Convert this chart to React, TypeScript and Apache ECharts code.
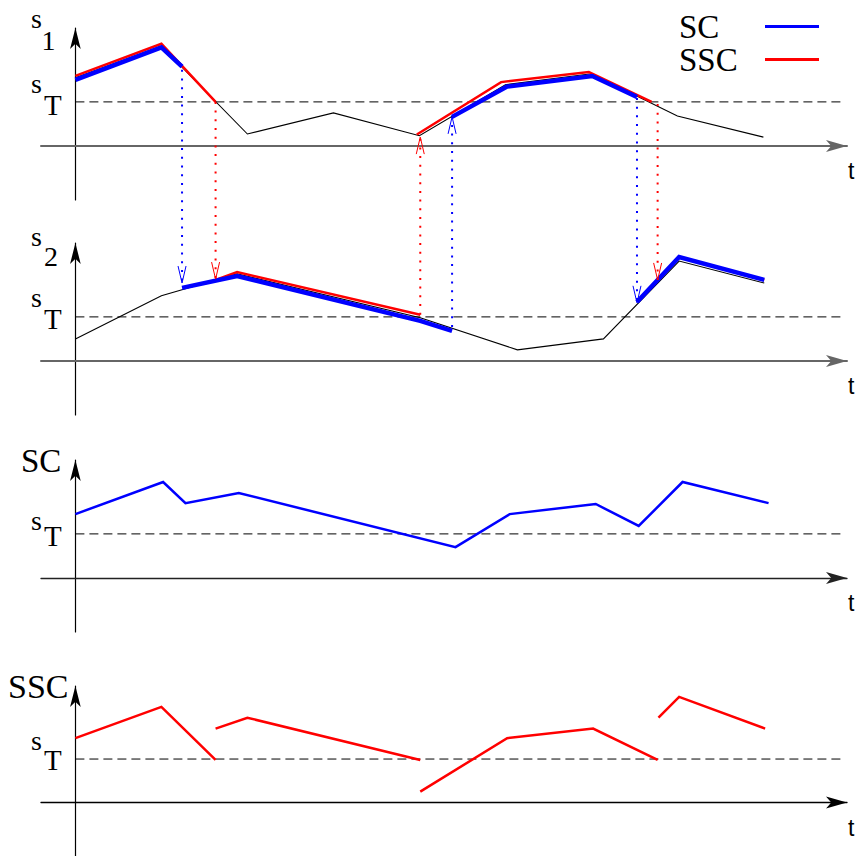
import React, { useEffect, useRef } from 'react';
import * as echarts from 'echarts';

// ---- data (t in arbitrary time units, values in arbitrary units, threshold s_T = 10) ----
const S_T = 10;
const T_END = 89.2;

// panel 1: s1
const s1T = [0, 10, 20, 30, 40, 50, 60, 70, 80];
const s1V = [15.5, 22.7, 2.7, 7.5, 2.3, 13.9, 16.4, 6.8, 2.0];
const s1ScA_T = [0, 10, 12.4];
const s1ScA_V = [15.0, 22.4, 18.0];
const s1ScB_T = [43.8, 50.2, 60.1, 65.3];
const s1ScB_V = [6.6, 13.5, 15.9, 11.1];
const s1SscA_T = [0, 10, 16.3];
const s1SscA_V = [15.9, 23.2, 10];
const s1SscB_T = [39.7, 49.5, 59.7, 67.0];
const s1SscB_V = [2.6, 14.5, 16.8, 10];

// panel 2: s2
const s2T = [0, 10, 18.8, 40.1, 51.4, 61.4, 70.2, 80.1];
const s2V = [5.0, 14.8, 19.8, 9.8, 2.5, 5.0, 22.7, 17.7];
const s2ScA_T = [12.4, 18.8, 40.1, 43.8];
const s2ScA_V = [16.6, 19.3, 9.1, 6.8];
const s2ScB_T = [65.3, 70.2, 80.1];
const s2ScB_V = [13.4, 23.6, 18.4];
const s2SscA_T = [16.3, 18.8, 40.1];
const s2SscA_V = [18.4, 20.2, 10.5];
const s2SscB_T = [67.7, 70.2, 80.1];
const s2SscB_V = [18.4, 23.6, 18.4];

// panel 3: SC
const scT = [0, 10.2, 12.8, 19.0, 44.2, 50.5, 60.5, 65.5, 70.6, 80.6];
const scV = [14.5, 21.8, 17.0, 19.3, 7.0, 14.5, 16.8, 11.8, 21.8, 17.0];

// panel 4: SSC
const sscA_T = [0, 10, 16.3];
const sscA_V = [14.8, 22.0, 9.8];
const sscB_T = [16.3, 20, 40.1];
const sscB_V = [17.0, 19.5, 9.8];
const sscC_T = [40.1, 50.2, 60.2, 67.7];
const sscC_V = [2.5, 14.8, 17.0, 9.8];
const sscD_T = [67.8, 70.2, 80.2];
const sscD_V = [19.5, 24.3, 17.0];

// switching connectors between panel 1 (index 0) and panel 2 (index 1)
const connKind = ['SC', 'SSC', 'SSC', 'SC', 'SC', 'SSC'];
const connT = [12.4, 16.3, 40.1, 43.8, 65.3, 67.7];
const connFromPanel = [0, 0, 1, 1, 0, 0];
const connFromV = [17.3, 10, 10.5, 7.7, 10.9, 9.5];
const connToPanel = [1, 1, 0, 0, 1, 1];
const connToV = [17.7, 18.6, 2.0, 6.6, 13.2, 18.4];

const BLUE = '#0000ff';
const RED = '#ff0000';
const SERIF = '"Liberation Serif", "Times New Roman", serif';
const SANS = '"Liberation Sans", Arial, sans-serif';

const GRID_TOPS = [28, 243, 460, 686];
const X_AXIS_COLORS = ['#666', '#666', '#222', '#000'];
const X_AXIS_WIDTHS = [2, 2, 1.3, 1.3];

function line(grid: number, T: number[], V: number[], color: string, width: number, z: number, name?: string) {
  return {
    type: 'line',
    name,
    xAxisIndex: grid,
    yAxisIndex: grid,
    data: T.map((t, i) => [t, V[i]]),
    symbol: 'none',
    showSymbol: false,
    lineStyle: { color, width, cap: 'butt', join: 'miter' },
    itemStyle: { color },
    silent: true,
    clip: false,
    z,
  };
}

function threshold(grid: number) {
  return {
    type: 'line',
    xAxisIndex: grid,
    yAxisIndex: grid,
    data: [[0, S_T], [T_END, S_T]],
    symbol: 'none',
    lineStyle: { color: '#000', width: 1, type: [9, 5] },
    silent: true,
    z: 1,
  };
}

export default function App() {
  const ref = useRef<HTMLDivElement>(null);
  useEffect(() => {
    if (!ref.current) return;
    const chart = echarts.init(ref.current, null, { renderer: 'svg' });
    const grids = GRID_TOPS.map((top) => ({ left: 41, width: 806, top, height: 172 }));
    const xAxes = GRID_TOPS.map((_, i) => ({
      type: 'value',
      gridIndex: i,
      min: -4,
      max: 89.72,
      axisLine: {
        show: true,
        onZero: true,
        symbol: ['none', 'arrow'],
        symbolSize: [9, 21],
        lineStyle: { color: X_AXIS_COLORS[i], width: X_AXIS_WIDTHS[i] },
      },
      axisTick: { show: false },
      axisLabel: { show: false },
      splitLine: { show: false },
    }));
    const yAxes = GRID_TOPS.map((_, i) => ({
      type: 'value',
      gridIndex: i,
      min: -12.3,
      max: 26.8,
      axisLine: {
        show: true,
        onZero: true,
        symbol: ['none', 'arrow'],
        symbolSize: [8, 21],
        lineStyle: { color: '#000', width: 1.2 },
      },
      axisTick: { show: false },
      axisLabel: { show: false },
      splitLine: { show: false },
    }));

    const series: any[] = [
      threshold(0), threshold(1), threshold(2), threshold(3),
      line(0, s1T, s1V, '#000', 1.1, 2),
      line(0, s1SscA_T, s1SscA_V, RED, 2.5, 3),
      line(0, s1SscB_T, s1SscB_V, RED, 2.5, 3),
      line(0, s1ScA_T, s1ScA_V, BLUE, 4.5, 4),
      line(0, s1ScB_T, s1ScB_V, BLUE, 4.5, 4),
      line(1, s2T, s2V, '#000', 1.1, 2),
      line(1, s2SscA_T, s2SscA_V, RED, 2.5, 3),
      line(1, s2SscB_T, s2SscB_V, RED, 2.5, 3),
      line(1, s2ScA_T, s2ScA_V, BLUE, 4.5, 4),
      line(1, s2ScB_T, s2ScB_V, BLUE, 4.5, 4),
      line(2, scT, scV, BLUE, 2.5, 3, 'SC'),
      line(3, sscA_T, sscA_V, RED, 2.5, 3, 'SSC'),
      line(3, sscB_T, sscB_V, RED, 2.5, 3, 'SSC'),
      line(3, sscC_T, sscC_V, RED, 2.5, 3, 'SSC'),
      line(3, sscD_T, sscD_V, RED, 2.5, 3, 'SSC'),
    ];

    chart.setOption({
      animation: false,
      backgroundColor: '#fff',
      grid: grids,
      xAxis: xAxes,
      yAxis: yAxes,
      legend: {
        data: [{ name: 'SC', icon: 'rect' }, { name: 'SSC', icon: 'rect' }],
        orient: 'vertical',
        left: 679,
        top: 10,
        align: 'right',
        itemWidth: 54,
        itemHeight: 3,
        itemGap: 0,
        padding: 0,
        selectedMode: false,
        formatter: '{a|{name}}',
        textStyle: {
          rich: {
            a: { width: 81, align: 'left', fontSize: 33, lineHeight: 33, fontFamily: SERIF, color: '#000' },
          },
        },
      },
      series,
    });

    const graphics: any[] = [];
    connT.forEach((t, i) => {
      const p1 = chart.convertToPixel({ gridIndex: connFromPanel[i] } as any, [t, connFromV[i]]) as number[];
      const p2 = chart.convertToPixel({ gridIndex: connToPanel[i] } as any, [t, connToV[i]]) as number[];
      const color = connKind[i] === 'SC' ? BLUE : RED;
      const dir = p2[1] > p1[1] ? 1 : -1;
      const x = p2[0];
      const tip = p2[1];
      graphics.push({
        type: 'line',
        silent: true,
        z: 10,
        shape: { x1: p1[0], y1: p1[1], x2: p2[0], y2: p2[1] },
        style: { stroke: color, lineWidth: 2, lineDash: [2, 6.7] },
      });
      graphics.push({
        type: 'polyline',
        silent: true,
        z: 10,
        shape: { points: [[x - 4, tip - dir * 17], [x, tip], [x + 4, tip - dir * 17]] },
        style: { stroke: color, lineWidth: 1, fill: 'none' },
      });
    });

    const txt = (text: string, x: number, y: number, size: number, family = SERIF) => ({
      type: 'text',
      silent: true,
      z: 20,
      x,
      y,
      style: { text, font: `${size}px ${family}`, fill: '#000', align: 'left', verticalAlign: 'middle' },
    });
    const sT = GRID_TOPS.map((_, g) => (chart.convertToPixel({ gridIndex: g } as any, [0, S_T]) as number[])[1]);
    const y0 = GRID_TOPS.map((_, g) => (chart.convertToPixel({ gridIndex: g } as any, [0, 0]) as number[])[1]);
    const top = GRID_TOPS;
    graphics.push(
      txt('s', 31, top[0] - 10, 28), txt('1', 41.5, top[0] + 12.5, 28),
      txt('s', 31, sT[0] - 18.5, 28), txt('T', 44, sT[0] + 3, 29),
      txt('s', 31, top[1] - 7, 28), txt('2', 44, top[1] + 13.5, 28),
      txt('s', 31, sT[1] - 19.5, 28), txt('T', 44, sT[1] + 2, 29),
      txt('SC', 21, top[2] + 0.5, 33),
      txt('s', 31, sT[2] - 13, 28), txt('T', 44, sT[2] + 2, 29),
      txt('SSC', 8, top[3] + 0, 34),
      txt('s', 31, sT[3] - 19, 28), txt('T', 44, sT[3] + 1, 29),
    );
    y0.forEach((y) => graphics.push(txt('t', 848, y + 25, 23, SANS)));
    chart.setOption({ graphic: graphics });

    return () => chart.dispose();
  }, []);

  return (
    <div
      ref={ref}
      style={{ position: 'fixed', left: 0, top: 0, width: 857, height: 856, background: '#fff' }}
    />
  );
}
